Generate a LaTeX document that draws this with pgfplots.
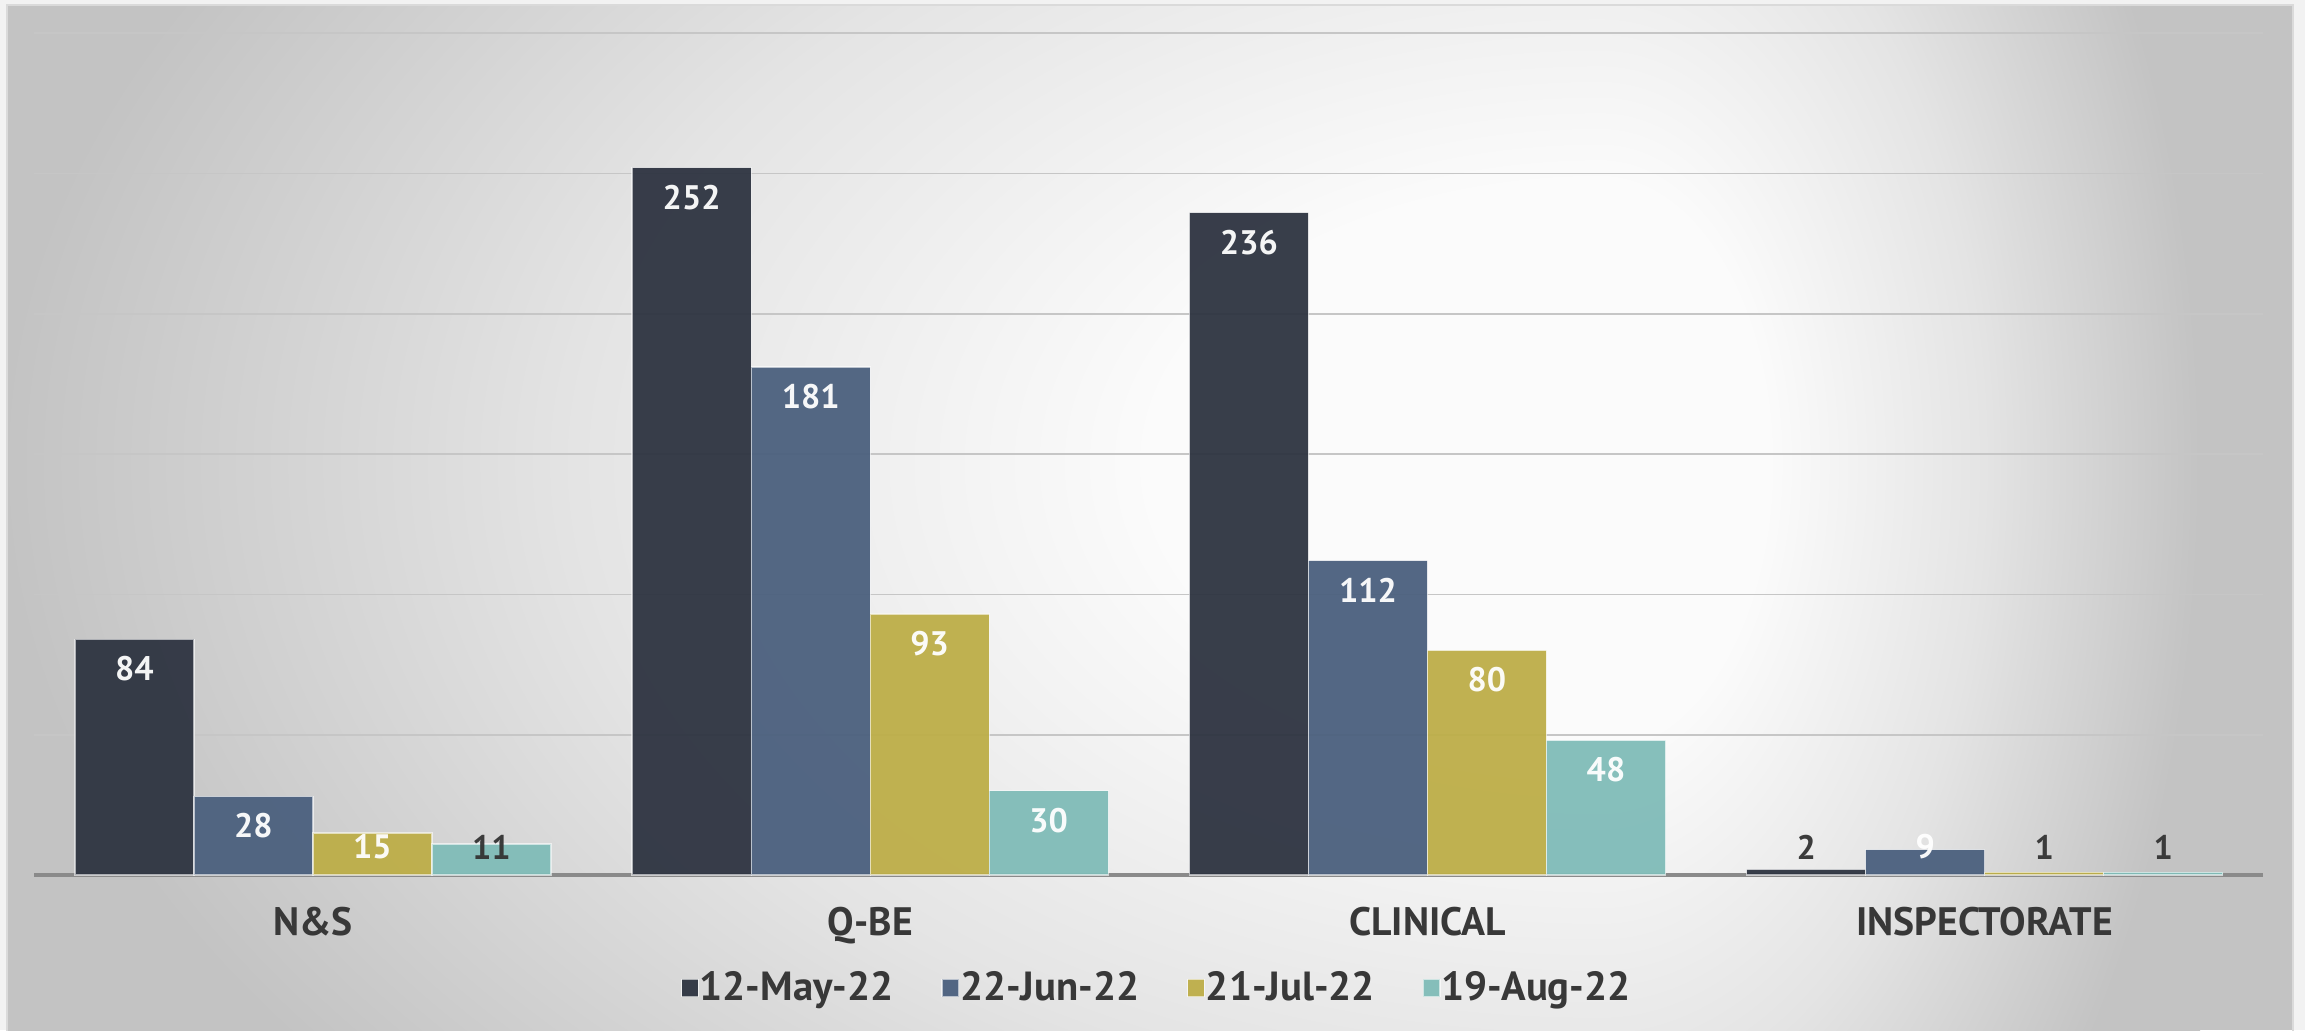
\documentclass[border=0pt]{standalone}
\usepackage{pgfplots}
\pgfplotsset{compat=1.18}
\usepackage{pgfplotstable}
\usepackage{fontspec}
\setmainfont{PT Sans}
\definecolor{cA}{HTML}{2E3441}
\definecolor{cB}{HTML}{4B607E}
\definecolor{cC}{HTML}{BDAE48}
\definecolor{cD}{HTML}{80BCB8}
\definecolor{labdark}{HTML}{333333}
\definecolor{txt}{HTML}{383838}
\definecolor{gridc}{HTML}{C6C6C6}
\definecolor{basec}{HTML}{8A8A8A}
\definecolor{bgin}{HTML}{FBFBFB}
\definecolor{bgmid}{HTML}{E4E4E4}
\definecolor{bgout}{HTML}{C3C3C3}
\definecolor{outer}{HTML}{F2F2F2}
\definecolor{panelb}{HTML}{DADADA}
\pgfdeclareradialshading{bgshade}{\pgfpointorigin}{color(0bp)=(bgin); color(7bp)=(bgin); color(16bp)=(bgmid); color(25bp)=(bgout); color(50bp)=(bgout)}

% lc: 100 = white label, 0 = dark label
\pgfplotstableread{
x y lc
0 84 100
1 252 100
2 236 100
3 2 0
}\tMay
\pgfplotstableread{
x y lc
0 28 100
1 181 100
2 112 100
3 9 100
}\tJun
\pgfplotstableread{
x y lc
0 15 100
1 93 100
2 80 100
3 1 0
}\tJul
\pgfplotstableread{
x y lc
0 11 0
1 30 100
2 48 100
3 1 0
}\tAug

\begin{document}
\begin{tikzpicture}
\fill[outer] (0,0) rectangle (691.5pt,309pt);
\fill[bgout] (2.1pt,0pt) rectangle (687.9pt,307.5pt);
\begin{scope}
\clip (2.1pt,0pt) rectangle (480pt,307.5pt);
\shade[shading=bgshade] (0pt,-130pt) rectangle (960pt,470pt);
\end{scope}
\begin{scope}
\clip (479.9pt,0pt) rectangle (687.9pt,307.5pt);
\shade[shading=bgshade] (300pt,-130pt) rectangle (660pt,470pt);
\end{scope}
\draw[panelb, line width=0.8pt] (2.1pt,-2pt) -- (2.1pt,307.5pt) -- (687.9pt,307.5pt) -- (687.9pt,-2pt);
\begin{axis}[
  at={(10.3pt,46.5pt)}, anchor=south west,
  scale only axis, width=668.7pt, height=252.6pt,
  xmin=-0.5, xmax=3.5, ymin=0, ymax=300,
  ybar=0pt, bar width=0.2136,
  axis x line*=bottom, axis y line*=left,
  x axis line style={draw=basec, line width=1pt, -},
  y axis line style={draw=none},
  major tick length=0pt,
  xtick={0,1,2,3},
  xticklabels={N\&S, Q-BE, CLINICAL, INSPECTORATE},
  xticklabel style={font=\bfseries\fontsize{11.9}{14}\selectfont, text=txt, yshift=-6.2pt},
  ytick={50,100,...,300}, yticklabels={},
  ymajorgrids, grid style={draw=gridc, line width=0.5pt},
  /pgf/number format/assume math mode=true,
  clip=false,
  nodes near coords,
  visualization depends on={\thisrow{y} \as \rawy},
  visualization depends on={\thisrow{lc} \as \lcv},
  every node near coord/.append style={anchor=center, text=white!\lcv!labdark,
     font=\bfseries\fontsize{10.2}{12}\selectfont,
     yshift={(max(\rawy-10.5,10)-\rawy)*0.842}},
  every axis plot/.append style={draw=white, draw opacity=0.6, line width=0.4pt, fill opacity=0.95},
  legend style={at={(0.5,0)}, anchor=center, yshift=-33.9pt, xshift=2.2pt,
     draw=none, fill=none, font=\bfseries\fontsize{12.2}{14}\selectfont, text=txt,
     legend columns=-1, nodes={inner xsep=0.3pt},
     /tikz/every even column/.append style={column sep=14pt}},
  legend image code/.code={\fill[#1] (0pt,-2.6pt) rectangle (5pt,2.6pt);},
]
\addplot[fill=cA] table[x=x,y=y] {\tMay};
\addplot[fill=cB] table[x=x,y=y] {\tJun};
\addplot[fill=cC] table[x=x,y=y] {\tJul};
\addplot[fill=cD] table[x=x,y=y] {\tAug};
\legend{12-May-22, 22-Jun-22, 21-Jul-22, 19-Aug-22}
\end{axis}
\pgfresetboundingbox
\useasboundingbox (0,0) rectangle (691.5pt,309pt);
\end{tikzpicture}
\end{document}
